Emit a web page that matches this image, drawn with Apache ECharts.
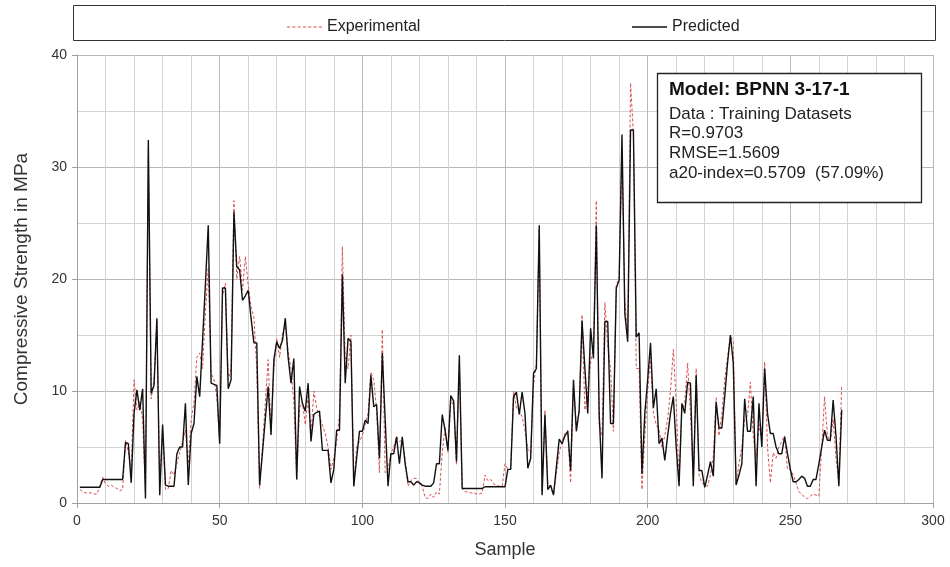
<!DOCTYPE html>
<html>
<head>
<meta charset="utf-8">
<script src="https://cdn.jsdelivr.net/npm/echarts@6/dist/echarts.min.js"></script>
<style>
html,body{margin:0;padding:0;background:#fff;}
#chart{width:950px;height:567px;}
</style>
</head>
<body>
<div id="chart"></div>
<script>
// Experimental values, samples 1..268
const experimental = [
1.2,1.0,0.9,0.9,0.9,0.8,0.8,1.5,2.3,1.7,
1.5,1.6,1.4,1.3,1.1,1.2,5.6,4.5,3.0,11.0,
8.3,9.0,7.5,1.0,31.5,9.3,11.0,16.3,1.5,6.8,
1.2,1.3,2.9,2.5,3.5,4.5,5.5,6.5,3.5,7.4,
9.0,13.0,13.4,12.0,17.0,21.0,11.6,11.0,9.5,5.3,
18.5,19.6,11.0,12.0,27.0,20.0,22.0,19.0,22.0,19.5,
17.5,16.6,12.0,1.3,5.0,9.0,12.8,6.1,12.0,14.7,
13.0,15.0,16.0,13.5,12.0,9.0,2.1,8.5,9.0,7.0,
9.5,6.0,10.0,8.5,7.7,7.0,6.2,5.0,3.0,4.0,
5.5,8.0,22.9,13.0,12.0,15.0,1.5,5.0,5.5,6.0,
7.0,8.0,11.7,11.0,8.3,2.7,15.5,2.7,3.0,4.4,
5.0,5.9,5.5,5.6,4.0,1.5,2.0,2.2,2.2,1.8,
1.5,0.5,0.4,0.8,0.5,1.0,0.8,4.5,6.8,4.5,
9.2,8.7,3.4,12.5,1.3,1.0,1.0,0.9,0.9,0.8,
0.8,0.9,2.5,2.0,2.1,1.7,1.6,1.5,1.5,3.5,
3.0,3.0,10.0,8.5,8.2,7.7,6.5,4.8,4.5,10.5,
12.5,24.5,1.0,8.3,1.8,1.3,0.8,2.6,4.5,5.5,
6.2,6.5,1.8,10.4,7.0,8.0,16.8,8.3,10.0,12.5,
14.0,27.0,7.0,6.0,17.9,14.0,12.0,6.4,19.5,20.0,
31.0,18.0,15.0,37.5,33.0,12.0,12.0,1.2,6.0,10.0,
13.0,8.0,7.0,6.5,5.0,6.0,7.5,10.0,13.7,9.0,
2.0,8.3,9.0,12.5,8.0,2.0,12.0,2.5,1.8,1.6,
1.5,2.5,4.1,9.4,6.0,8.0,11.0,13.0,14.9,14.4,
1.7,3.5,5.0,7.5,7.8,10.8,6.0,4.0,7.0,5.5,
12.6,5.0,1.8,4.5,4.0,5.0,5.5,6.0,3.0,3.0,
2.5,1.8,1.0,0.8,0.5,0.4,0.6,0.8,0.7,0.6,
5.0,9.5,6.0,5.5,7.5,4.0,1.8,10.5
];
// Predicted values, samples 1..268
const predicted = [
1.4,1.4,1.4,1.4,1.4,1.4,1.4,1.4,2.1,2.1,
2.1,2.1,2.1,2.1,2.1,2.1,5.4,5.3,1.8,8.0,
10.1,8.3,10.2,0.4,32.4,9.8,10.5,16.5,0.7,7.0,
1.6,1.5,1.5,1.5,4.4,5.0,5.0,8.9,1.6,6.2,
7.1,11.3,9.5,14.5,19.5,24.8,10.7,10.6,10.5,5.3,
19.2,19.2,10.2,11.0,26.0,21.1,20.8,18.1,18.5,19.0,
16.5,14.3,14.3,1.6,4.5,7.5,10.4,6.1,12.8,14.4,
13.8,14.5,16.5,13.0,10.7,12.9,2.1,10.4,8.9,8.2,
10.7,5.5,7.9,8.1,8.2,4.7,4.7,4.7,1.8,3.0,
6.5,6.5,20.4,10.7,14.7,14.4,1.5,4.0,6.4,6.4,
7.4,7.1,11.4,8.6,8.8,4.0,13.4,7.5,1.5,4.4,
4.4,5.9,3.5,5.9,3.5,1.9,1.9,1.6,1.9,1.8,
1.6,1.5,1.5,1.5,1.8,3.5,3.5,7.9,6.5,4.7,
9.6,9.1,3.7,13.2,1.3,1.3,1.3,1.3,1.3,1.3,
1.3,1.3,1.45,1.45,1.45,1.45,1.45,1.45,1.45,1.45,
3.0,3.0,9.5,9.9,7.9,9.9,8.0,3.1,4.0,11.6,
12.0,24.8,0.7,7.9,1.2,1.6,0.7,3.2,5.7,5.3,
6.0,6.4,2.9,11.0,6.4,8.3,16.3,12.0,8.0,15.6,
12.9,24.8,8.0,2.2,16.2,16.2,7.1,7.1,19.2,19.9,
32.9,16.9,14.4,33.3,33.3,14.8,15.2,2.6,8.0,11.0,
14.3,8.5,10.2,5.3,5.8,3.8,6.0,8.0,9.5,5.0,
1.5,8.9,8.0,10.8,10.7,1.5,11.4,2.9,2.9,1.4,
2.5,3.7,2.4,9.0,6.7,6.7,9.5,12.5,15.0,12.5,
1.6,2.5,3.5,9.3,6.4,6.4,9.5,1.5,8.9,5.0,
12.0,8.0,6.2,6.2,5.0,4.4,4.4,5.9,4.4,3.0,
1.9,1.9,2.1,2.4,2.2,1.5,1.5,2.1,2.1,3.5,
5.0,6.5,5.6,5.6,9.2,6.0,1.5,8.3
];
const samples = experimental.map((_, i) => i + 1);
const xTicks = [0, 50, 100, 150, 200, 250, 300];
const yTicks = [0, 10, 20, 30, 40];
const infoTitle = 'Model: BPNN 3-17-1';
const infoLines = ['Data : Training Datasets', 'R=0.9703', 'RMSE=1.5609', 'a20-index=0.5709  (57.09%)'];

const FONT = '"Liberation Sans", Arial, sans-serif';
const DASH_ICON = 'path://M0,0h3v1h-3zM5,0h3v1h-3zM10,0h3v1h-3zM15,0h3v1h-3zM20,0h3v1h-3zM25,0h3v1h-3zM30,0h3v1h-3z';
const chart = echarts.init(document.getElementById('chart'), null, {renderer: 'canvas'});
chart.setOption({
  backgroundColor: '#fff',
  animation: false,
  textStyle: {fontFamily: FONT},
  legend: [
    {left: 282, top: 14, data: [{name: 'Experimental', icon: DASH_ICON}], itemWidth: 35, itemHeight: 1.2, itemGap: 6,
     textStyle: {fontSize: 16, color: '#222', fontFamily: FONT}},
    {left: 627, top: 14, data: [{name: 'Predicted', icon: 'rect'}], itemWidth: 35, itemHeight: 1.5, itemGap: 6,
     textStyle: {fontSize: 16, color: '#222', fontFamily: FONT}}
  ],
  grid: {left: 77, right: 17, top: 55, bottom: 64, containLabel: false},
  xAxis: {
    type: 'value', min: xTicks[0], max: xTicks[xTicks.length - 1], interval: 50,
    name: 'Sample', nameLocation: 'middle', nameGap: 38,
    nameTextStyle: {fontSize: 18, color: '#333', fontFamily: FONT},
    axisLine: {show: true, lineStyle: {color: '#a0a0a0', width: 1}},
    axisTick: {show: true, length: 5, lineStyle: {color: '#a0a0a0'}},
    axisLabel: {fontSize: 14, color: '#333', margin: 11, fontFamily: FONT},
    splitLine: {show: true, lineStyle: {color: '#b8b8b8', width: 1}},
    minorTick: {show: false, splitNumber: 5},
    minorSplitLine: {show: true, lineStyle: {color: '#d3d3d3', width: 1}}
  },
  yAxis: {
    type: 'value', min: yTicks[0], max: yTicks[yTicks.length - 1], interval: 10,
    name: 'Compressive Strength in MPa', nameLocation: 'middle', nameGap: 46,
    nameTextStyle: {fontSize: 19, color: '#333', fontFamily: FONT},
    axisLine: {show: true, lineStyle: {color: '#a0a0a0', width: 1}},
    axisTick: {show: true, length: 5, lineStyle: {color: '#a0a0a0'}},
    axisLabel: {fontSize: 14, color: '#333', margin: 10, fontFamily: FONT},
    splitLine: {show: true, lineStyle: {color: '#b8b8b8', width: 1}},
    minorTick: {show: false, splitNumber: 2},
    minorSplitLine: {show: true, lineStyle: {color: '#d3d3d3', width: 1}}
  },
  series: [
    {name: 'Experimental', type: 'line', symbol: 'none',
     data: samples.map((s, i) => [s, experimental[i]]),
     lineStyle: {color: '#d9534f', width: 1, type: [3, 2]}, itemStyle: {color: '#d9534f'}, z: 2},
    {name: 'Predicted', type: 'line', symbol: 'none',
     data: samples.map((s, i) => [s, predicted[i]]),
     lineStyle: {color: '#111', width: 1.4}, itemStyle: {color: '#111'}, z: 3}
  ],
  graphic: [
    {type: 'rect', shape: {x: 73.5, y: 5.5, width: 862, height: 35},
     style: {fill: 'none', stroke: '#333', lineWidth: 1}, z: 10},
    {type: 'rect', shape: {x: 657.5, y: 73.5, width: 264, height: 129},
     style: {fill: '#fff', stroke: '#222', lineWidth: 1.3}, z: 10},
    {type: 'text', left: 669, top: 80, z: 11,
     style: {text: infoTitle, fontSize: 19, fontWeight: 'bold', fill: '#111', fontFamily: FONT}},
    {type: 'text', left: 669, top: 104, z: 11,
     style: {text: infoLines.join('\n'), fontSize: 17, lineHeight: 19.7, fill: '#222', fontFamily: FONT}}
  ]
});
</script>
</body>
</html>
